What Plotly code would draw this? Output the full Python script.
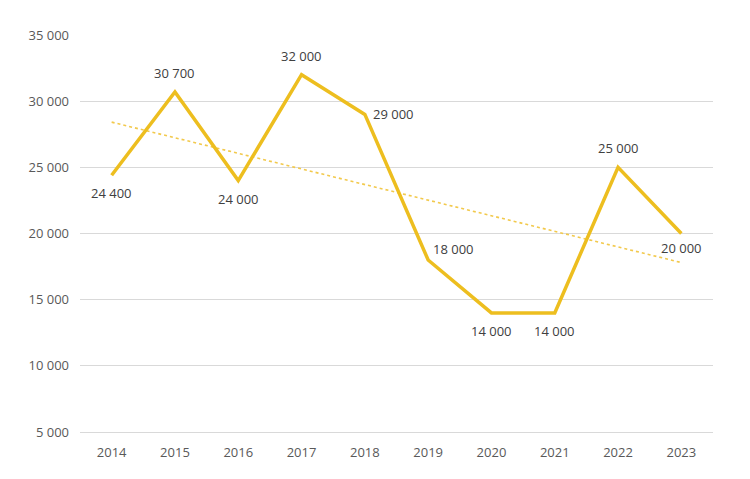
import plotly.graph_objects as go
import numpy as np

years = ["2014", "2015", "2016", "2017", "2018", "2019", "2020", "2021", "2022", "2023"]
values = [24400, 30700, 24000, 32000, 29000, 18000, 14000, 14000, 25000, 20000]
# label placement relative to each point (pixels)
label_dx = [0, 0, 0, 0, 29, 25, 0, 0, 0, 0]
label_dy = [-18, 19, -18, 19, 0, 11, -18, -18, 19, -14]
y_ticks = [5000, 10000, 15000, 20000, 25000, 30000, 35000]

def fmt(v):
    return f"{v:,}".replace(",", " ")

# linear trendline from data
xi = np.arange(len(values))
slope, intercept = np.polyfit(xi, values, 1)
trend = slope * xi + intercept

line_color = "#EDBE1F"

fig = go.Figure()
fig.add_trace(go.Scatter(
    x=years, y=trend, mode="lines",
    line=dict(color="#F2C94C", width=1.6, dash="dot"),
    hoverinfo="skip", showlegend=False,
))
fig.add_trace(go.Scatter(
    x=years, y=values, mode="lines",
    line=dict(color=line_color, width=3.5),
    showlegend=False,
))

for i, (v, dx, dy) in enumerate(zip(values, label_dx, label_dy)):
    fig.add_annotation(x=i, y=v, text=fmt(v), showarrow=False,
                       xshift=dx, yshift=dy,
                       font=dict(family="Open Sans", size=13, color="#404040"))

fig.update_layout(
    width=750, height=479,
    margin=dict(l=80, r=37, t=35, b=47),
    paper_bgcolor="white", plot_bgcolor="white",
    font=dict(family="Open Sans", size=13, color="#595959"),
    showlegend=False,
)
fig.update_xaxes(type="category", range=[-0.5, len(years) - 0.5],
                 showgrid=False, showline=True, linecolor="#D9D9D9",
                 linewidth=1, zeroline=False, ticks="", ticklabelstandoff=8,
                 tickfont=dict(size=13, color="#595959"))
fig.update_yaxes(range=[5000, 35000], tickvals=y_ticks, ticktext=[fmt(v) for v in y_ticks],
                 showgrid=True, gridcolor="#D9D9D9", gridwidth=1, zeroline=False,
                 showline=False, ticks="", ticklabelstandoff=10,
                 tickfont=dict(size=13, color="#595959"))

fig.write_html("out.html")
